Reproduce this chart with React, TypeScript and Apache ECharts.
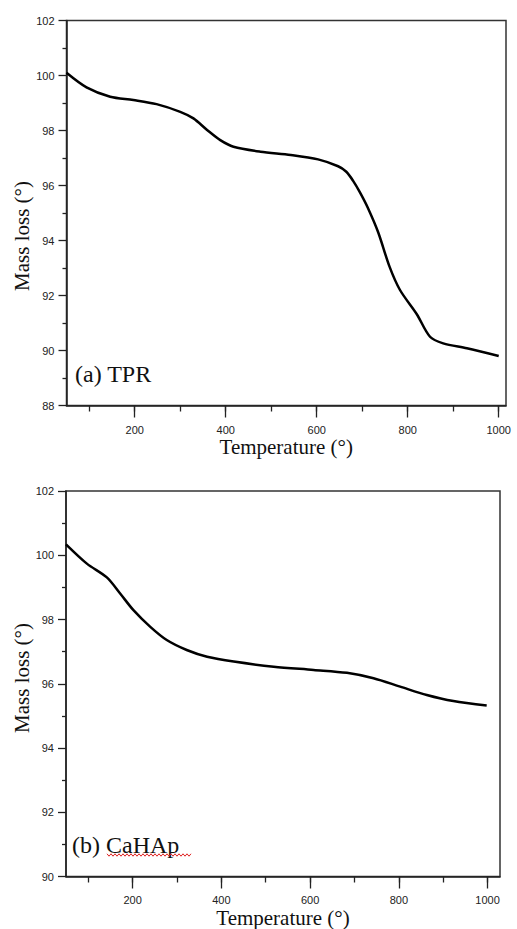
import React, { useEffect, useRef } from "react";
import * as echarts from "echarts";

// (a) TPR — temperature (°) and mass (%)
const tprTemps = [50, 94, 146, 197, 248, 300, 329, 359, 388, 417, 476, 543, 603, 647, 665, 680, 695, 712, 735, 760, 783, 820, 849, 878, 930, 1000];
const tprMass = [100.1, 99.57, 99.23, 99.11, 98.96, 98.68, 98.44, 98.02, 97.65, 97.41, 97.23, 97.11, 96.95, 96.7, 96.5, 96.17, 95.75, 95.2, 94.3, 93.05, 92.2, 91.32, 90.5, 90.26, 90.08, 89.8];

// (b) CaHAp
const cahapTemps = [50, 97, 142, 172, 202, 240, 277, 322, 368, 428, 518, 608, 683, 743, 803, 863, 923, 998];
const cahapMass = [100.34, 99.74, 99.31, 98.81, 98.29, 97.77, 97.36, 97.05, 96.84, 96.69, 96.53, 96.43, 96.34, 96.17, 95.91, 95.65, 95.46, 95.32];

// tick values
const xMinorTicks = [100, 200, 300, 400, 500, 600, 700, 800, 900, 1000];
const xMajorTicks = [200, 400, 600, 800, 1000];

const panelLabels = ["(a) TPR", "(b) CaHAp"];
const xTitle = "Temperature (°)";
const yTitle = "Mass loss (°)";

const SERIF = "'Liberation Serif', 'Times New Roman', serif";
const SANS = "'Liberation Sans', Arial, sans-serif";

export default function App() {
  const ref = useRef<HTMLDivElement>(null);
  useEffect(() => {
    document.body.style.margin = "0";
    const chart = echarts.init(ref.current!, null, { renderer: "svg" });

    const grids = [
      { left: 66.5, top: 20.5, width: 439.5, height: 385, xMax: 1016, yMin: 88, yMax: 102, nameGap: 31, labelMargin: 19 },
      { left: 66, top: 491, width: 434, height: 386, xMax: 1028, yMin: 90, yMax: 102, nameGap: 31, labelMargin: 18 },
    ];

    const xAxes: any[] = [];
    const yAxes: any[] = [];
    grids.forEach((g, i) => {
      xAxes.push({
        type: "value",
        gridIndex: i,
        min: 50,
        max: g.xMax,
        position: "bottom",
        name: xTitle,
        nameLocation: "middle",
        nameGap: g.nameGap,
        nameMoveOverlap: false,
        nameTextStyle: { fontFamily: SERIF, fontSize: 21, lineHeight: 20, color: "#111" },
        axisLine: { show: true, lineStyle: { color: "#222", width: 1.5 } },
        axisTick: { show: true, inside: false, length: 6, customValues: xMinorTicks, lineStyle: { color: "#222", width: 1.3 } },
        axisLabel: {
          show: true,
          customValues: xMajorTicks,
          margin: g.labelMargin,
          fontFamily: SANS,
          fontSize: 11,
          lineHeight: 11,
          color: "#222",
          formatter: (v: number) => String(v),
        },
        splitLine: { show: false },
      });
      xAxes.push({
        type: "value",
        gridIndex: i,
        min: 50,
        max: g.xMax,
        position: "bottom",
        offset: 0,
        axisLine: { show: false },
        axisTick: { show: true, inside: false, length: 12, customValues: xMajorTicks, lineStyle: { color: "#222", width: 1.3 } },
        axisLabel: { show: false },
        splitLine: { show: false },
      });
      yAxes.push({
        type: "value",
        gridIndex: i,
        min: g.yMin,
        max: g.yMax,
        interval: 2,
        axisLine: { show: true, lineStyle: { color: "#222", width: 1.5 } },
        axisTick: { show: true, inside: false, length: 8, lineStyle: { color: "#222", width: 1.3 } },
        minorTick: { show: true, splitNumber: 2, length: 4, lineStyle: { color: "#222", width: 1.3 } },
        axisLabel: { margin: 12, fontFamily: SANS, fontSize: 11, color: "#222" },
        splitLine: { show: false },
      });
    });

    const zig: number[][] = [];
    for (let k = 0; k <= 42; k++) zig.push([107 + k * 2, 855 + (k % 2 === 0 ? -1.2 : 1.2)]);

    chart.setOption({
      animation: false,
      backgroundColor: "#fff",
      grid: grids.map((g) => ({
        left: g.left,
        top: g.top,
        width: g.width,
        height: g.height,
        show: true,
        borderColor: "#333",
        borderWidth: 1.5,
        backgroundColor: "transparent",
      })),
      xAxis: xAxes,
      yAxis: yAxes,
      series: [
        {
          type: "line",
          xAxisIndex: 0,
          yAxisIndex: 0,
          data: tprTemps.map((t, i) => [t, tprMass[i]]),
          showSymbol: false,
          smooth: 0.3,
          lineStyle: { color: "#000", width: 2.5 },
        },
        {
          type: "line",
          xAxisIndex: 2,
          yAxisIndex: 1,
          data: cahapTemps.map((t, i) => [t, cahapMass[i]]),
          showSymbol: false,
          smooth: 0.3,
          lineStyle: { color: "#000", width: 2.5 },
        },
      ],
      graphic: [
        {
          type: "text",
          x: 22,
          y: 236,
          rotation: Math.PI / 2,
          style: { text: yTitle, fontFamily: SERIF, fontSize: 21, fill: "#111", align: "center", verticalAlign: "middle" },
        },
        {
          type: "text",
          x: 22,
          y: 678,
          rotation: Math.PI / 2,
          style: { text: yTitle, fontFamily: SERIF, fontSize: 21, fill: "#111", align: "center", verticalAlign: "middle" },
        },
        {
          type: "text",
          x: 75,
          y: 374,
          style: { text: panelLabels[0], fontFamily: SERIF, fontSize: 24, fill: "#111", align: "left", verticalAlign: "middle" },
        },
        {
          type: "text",
          x: 72,
          y: 845,
          style: { text: panelLabels[1], fontFamily: SERIF, fontSize: 24, fill: "#111", align: "left", verticalAlign: "middle" },
        },
        {
          type: "polyline",
          shape: { points: zig },
          style: { stroke: "#e02020", lineWidth: 1, fill: null },
        },
      ],
    });
    return () => chart.dispose();
  }, []);
  return <div ref={ref} style={{ width: 517, height: 929 }} />;
}
